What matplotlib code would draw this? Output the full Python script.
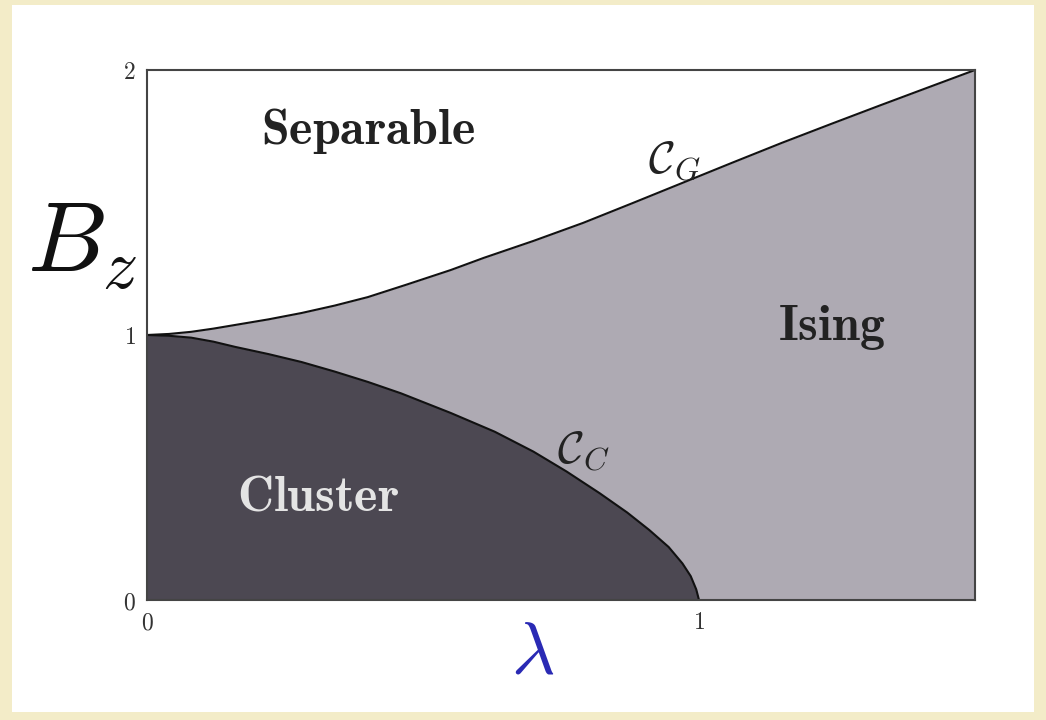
import numpy as np
import matplotlib.pyplot as plt
from matplotlib.patches import Rectangle

plt.rcParams["mathtext.fontset"] = "cm"
plt.rcParams["font.family"] = "serif"
plt.rcParams["font.serif"] = ["DejaVu Serif"]

# phase boundary C_G (separable / Ising)
lam_g = [0.00, 0.04, 0.08, 0.12, 0.16, 0.22, 0.28, 0.34, 0.40, 0.47, 0.55,
         0.61, 0.70, 0.79, 0.88, 0.97, 1.06, 1.15, 1.24, 1.33, 1.42, 1.50]
bz_g = [1.000, 1.004, 1.012, 1.024, 1.038, 1.059, 1.083, 1.111, 1.143, 1.190,
        1.245, 1.291, 1.355, 1.423, 1.498, 1.574, 1.650, 1.725, 1.797, 1.868,
        1.938, 2.000]

# phase boundary C_C (cluster / Ising)
lam_c = [0.00, 0.04, 0.08, 0.12, 0.16, 0.22, 0.28, 0.34, 0.40, 0.46, 0.55,
         0.63, 0.70, 0.76, 0.82, 0.87, 0.91, 0.945, 0.97, 0.985, 0.995, 1.00]
bz_c = [1.000, 0.997, 0.990, 0.975, 0.955, 0.928, 0.898, 0.862, 0.823, 0.780,
        0.706, 0.635, 0.560, 0.485, 0.403, 0.330, 0.264, 0.200, 0.138, 0.090,
        0.040, 0.000]

x_ticks = [0, 1]
y_ticks = [0, 1, 2]

cream = "#f3ecc8"
ising_col = "#aeaab3"
cluster_col = "#4c4852"

fig = plt.figure(figsize=(10.46, 7.2), dpi=100, facecolor=cream)
fig.patches.append(Rectangle((12 / 1046, 8 / 720), 1022 / 1046, 707 / 720,
                             transform=fig.transFigure, facecolor="white",
                             edgecolor="none", zorder=-5))

ax = fig.add_axes([147 / 1046, 120 / 720, 828 / 1046, 530 / 720])
ax.set_zorder(2)
ax.set_facecolor(ising_col)
ax.set_xlim(0, 1.5)
ax.set_ylim(0, 2)

ax.fill_between(lam_g, bz_g, 2, color="white", lw=0)
ax.fill_between(lam_c, 0, bz_c, color=cluster_col, lw=0)
ax.plot(lam_g, bz_g, color="#111111", lw=1.5, solid_joinstyle="round")
ax.plot(lam_c, bz_c, color="#111111", lw=1.5, solid_joinstyle="round")

for s in ax.spines.values():
    s.set_color("#444444")
    s.set_linewidth(1.5)

ax.set_xticks(x_ticks)
ax.set_yticks(y_ticks)
ax.set_xticklabels([r"$\mathbf{%d}$" % t for t in x_ticks], color="#333333")
ax.set_yticklabels([r"$\mathbf{%d}$" % t for t in y_ticks], color="#333333")
ax.tick_params(length=0, labelsize=17, pad=8)

ax.text(0.40, 1.77, r"$\mathbf{Separable}$", fontsize=36, color="#222222",
        ha="center", va="center")
ax.text(1.24, 1.03, r"$\mathbf{Ising}$", fontsize=36, color="#222222",
        ha="center", va="center")
ax.text(0.31, 0.39, r"$\mathbf{Cluster}$", fontsize=36, color="#e4e4e4",
        ha="center", va="center")
ax.text(0.955, 1.655, r"$\mathcal{C}_G$", fontsize=33, color="#222222",
        ha="center", va="center")
ax.text(0.79, 0.56, r"$\mathcal{C}_C$", fontsize=33, color="#222222",
        ha="center", va="center")

fig.text(82 / 1046, 1 - 245 / 720, r"$B_z$", fontsize=72, color="#111111",
         ha="center", va="center")
fig.text(533 / 1046, 1 - 653 / 720, r"$\lambda$", fontsize=54, color="#2a2ab4",
         ha="center", va="center")

fig.savefig("out.png", dpi=100, facecolor=fig.get_facecolor())
